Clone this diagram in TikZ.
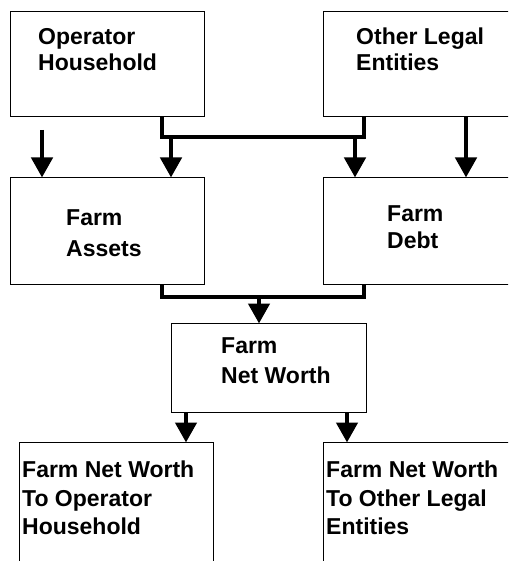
\documentclass[tikz,border=0pt]{standalone}
\usepackage{fontspec}
\setmainfont{Liberation Sans}
\usetikzlibrary{arrows.meta}
\tikzset{
  box/.style={draw, line width=1.3pt, inner sep=0pt, anchor=north west, fill=white},
  lbl/.style={anchor=base west, inner sep=0pt, font=\fontsize{23}{26}\selectfont\bfseries},
  conn/.style={line width=4.5pt, line join=miter},
  arr/.style={line width=4.5pt, -{Triangle[length=20pt,width=21pt]}, shorten >=-0.5pt}
}
\begin{document}
\begin{tikzpicture}[x=1pt,y=-1pt]
\useasboundingbox (0,0) rectangle (508,561);
\clip (0,0) rectangle (508,561);
% boxes
\node[box, minimum width=194pt, minimum height=105pt] (oh) at (10,11) {};
\node[box, minimum width=220pt, minimum height=105pt] (ole) at (323,11) {};
\node[box, minimum width=194pt, minimum height=107pt] (fa) at (10,177) {};
\node[box, minimum width=220pt, minimum height=107pt] (fd) at (323,177) {};
\node[box, minimum width=195pt, minimum height=89pt] (nw) at (171,323) {};
\node[box, minimum width=194pt, minimum height=150pt] (b1) at (19,442) {};
\node[box, minimum width=220pt, minimum height=150pt] (b2) at (323,442) {};
% labels
\node[lbl] (oh1) at (38,45) {Operator};
\node[lbl] (oh2) at (38,71) {Household};
\node[lbl] (ole1) at (356,45) {Other Legal};
\node[lbl] (ole2) at (356,71) {Entities};
\node[lbl] (fa1) at (66,225) {Farm};
\node[lbl] (fa2) at (66,256) {Assets};
\node[lbl] (fd1) at (387,221) {Farm};
\node[lbl] (fd2) at (387,248) {Debt};
\node[lbl] (nw1) at (221,353) {Farm};
\node[lbl] (nw2) at (221,383) {Net Worth};
\node[lbl] (b1a) at (22,477) {Farm Net Worth};
\node[lbl] (b1b) at (22,506) {To Operator};
\node[lbl] (b1c) at (22,534) {Household};
\node[lbl] (b2a) at (326,477) {Farm Net Worth};
\node[lbl] (b2b) at (326,506) {To Other Legal};
\node[lbl] (b2c) at (326,534) {Entities};
% connector coordinates
\coordinate (x42) at (42,130);
\coordinate (x162) at (162,137);
\coordinate (x171) at (171,137);
\coordinate (x355) at (355,137);
\coordinate (x364) at (364,137);
\coordinate (x466) at (466,0);
\coordinate (y297a) at (162,297);
\coordinate (y297b) at (364,297);
\coordinate (x259) at (259,297);
\coordinate (x186) at (186,0);
\coordinate (x347) at (347,0);
% top connectors
\draw[arr] (x42) -- (x42 |- fa.north);
\draw[conn] (oh.south -| x162) -- (x162) -- (x364) -- (ole.south -| x364);
\draw[arr] (x171) -- (x171 |- fa.north);
\draw[arr] (x355) -- (x355 |- fd.north);
\draw[arr] (ole.south -| x466) -- (fd.north -| x466);
% middle connectors
\draw[conn] (fa.south -| y297a) -- (y297a) -- (y297b) -- (fd.south -| y297b);
\draw[arr] (x259) -- (x259 |- nw.north);
% bottom connectors
\draw[arr] (nw.south -| x186) -- (b1.north -| x186);
\draw[arr] (nw.south -| x347) -- (b2.north -| x347);
\end{tikzpicture}
\end{document}
